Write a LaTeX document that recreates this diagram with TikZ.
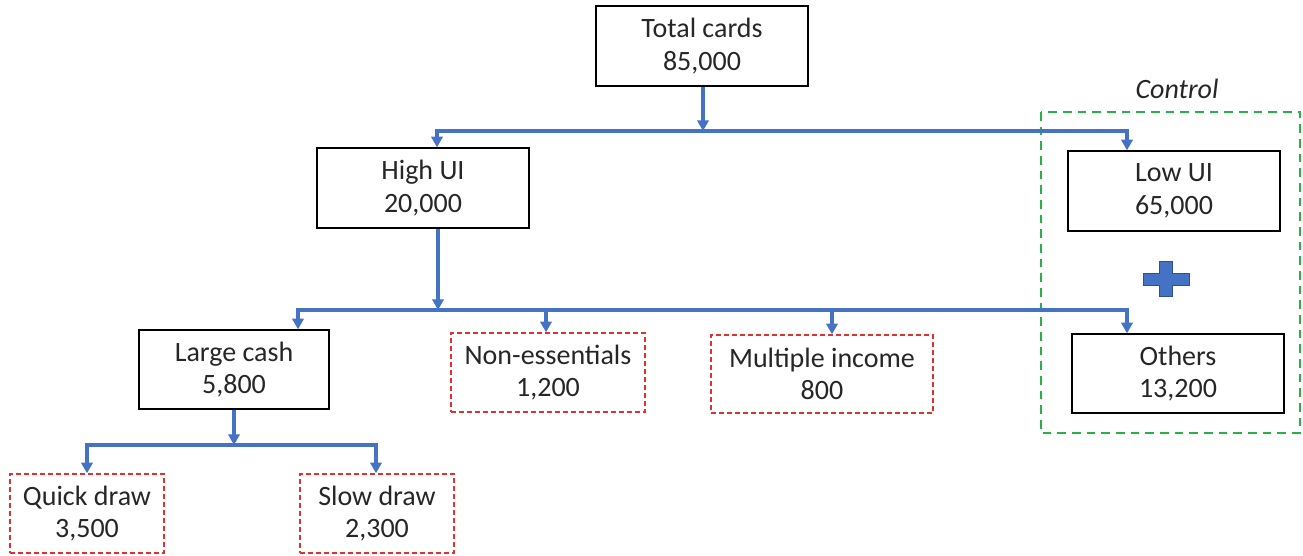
\documentclass[tikz,border=0pt]{standalone}
\usepackage{fontspec}
\setmainfont{Carlito}
\usetikzlibrary{arrows.meta}
\definecolor{lineblue}{HTML}{4472C4}
\definecolor{plusedge}{HTML}{2F528F}
\definecolor{dashred}{RGB}{222,50,50}
\definecolor{dashgreen}{RGB}{40,178,70}
\tikzset{
  box/.style 2 args={draw=black, line width=1pt, minimum width=#1*0.75pt, minimum height=#2*0.75pt,
    inner sep=0pt, align=center, font=\fontsize{21}{24.5}\selectfont, text=black!85},
  redbox/.style={draw=dashred, line width=1.1pt, dash pattern=on 3.5pt off 2.5pt},
  conn/.style={draw=lineblue, line width=2.3pt},
  tip/.style={-{Triangle[width=8.5pt,length=8pt]}},
  twotip/.style={{Triangle[width=8.5pt,length=8pt]}-{Triangle[width=8.5pt,length=8pt]}},
}
\begin{document}
\begin{tikzpicture}[x=0.75pt,y=-0.75pt]
\useasboundingbox (0,0) rectangle (1303,556);

% green control frame
\draw[draw=dashgreen, line width=2pt, dash pattern=on 6.5pt off 4.5pt] (1041,112) rectangle (1300,433);
\node[font=\fontsize{21}{24.5}\selectfont\itshape, text=black!85] (control) at (1177,89) {Control};

% nodes
\node[box={212}{80}] (total) at (702,46) {Total cards\\85,000};
\node[box={212}{80}] (high) at (423,188) {High UI\\20,000};
\node[box={212}{80}] (low) at (1174,191) {Low UI\\65,000};
\node[box={190}{79}] (large) at (234,369.5) {Large cash\\5,800};
\node[box={194}{79}, redbox] (nones) at (548,372.5) {Non-essentials\\1,200};
\node[box={222}{78}, redbox] (multi) at (822,374) {Multiple income\\800};
\node[box={212}{79}] (others) at (1178,373.5) {Others\\13,200};
\node[box={154}{79}, redbox] (quick) at (87,513.5) {Quick draw\\3,500};
\node[box={154}{79}, redbox] (slow) at (377,513.5) {Slow draw\\2,300};

% plus sign
\draw[fill=lineblue, draw=plusedge, line width=0.6pt]
  (1143,273) -- (1159,273) -- (1159,261) -- (1172,261) -- (1172,273) -- (1189,273)
  -- (1189,285) -- (1172,285) -- (1172,296) -- (1159,296) -- (1159,285) -- (1143,285) -- cycle;

% bus coordinates
\coordinate (b1) at (703,131);
\coordinate (b2) at (438,310);
\coordinate (b3) at (234,445);
\coordinate (hx) at (437,0);
\coordinate (lx) at (1127,0);
\coordinate (gx) at (298,0);
\coordinate (nx) at (546,0);
\coordinate (mx) at (832,0);
\coordinate (ox) at (1127,0);
\coordinate (qx) at (87,0);
\coordinate (sx) at (376,0);

% level 1
\draw[conn, tip] (total.south -| b1) -- (b1);
\draw[conn, twotip] (high.north -| hx) |- (b1) -| (low.north -| lx);

% level 2
\draw[conn, tip] (high.south -| b2) -- (b2);
\draw[conn, twotip] (large.north -| gx) |- (b2) -| (others.north -| ox);
\draw[conn, tip] (nones.north -| nx) ++(0,-24) -- (nones.north -| nx);
\draw[conn, tip] (multi.north -| mx) ++(0,-26) -- (multi.north -| mx);

% level 3
\draw[conn, tip] (large.south -| b3) -- (b3);
\draw[conn, twotip] (quick.north -| qx) |- (b3) -| (slow.north -| sx);
\end{tikzpicture}
\end{document}
